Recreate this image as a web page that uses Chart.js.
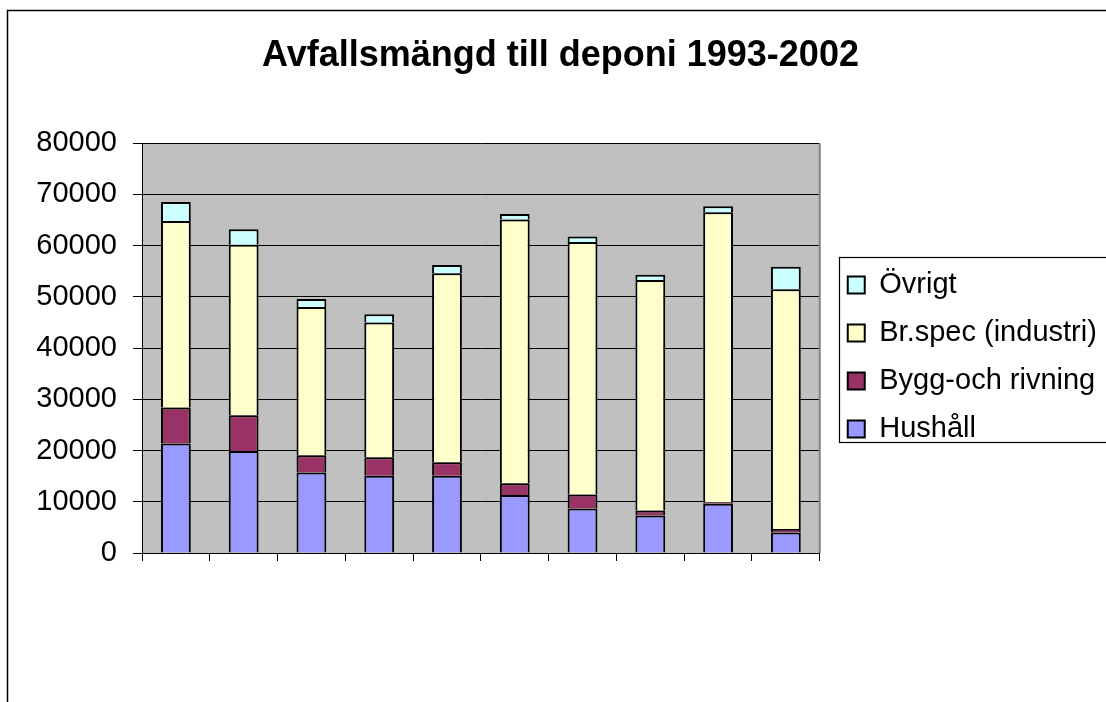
<!DOCTYPE html>
<html>
<head>
<meta charset="utf-8">
<script src="https://cdn.jsdelivr.net/npm/chart.js@4/dist/chart.umd.min.js"></script>
<style>
  html, body { margin: 0; padding: 0; background: #fff; overflow: hidden; }
  #wrap { width: 1106px; height: 702px; }
</style>
</head>
<body>
<div id="wrap"><canvas id="avfall" width="1106" height="702"></canvas></div>
<script>
const years = ['1993', '1994', '1995', '1996', '1997', '1998', '1999', '2000', '2001', '2002']
const hushall = [21400, 19900, 15700, 15100, 15100, 11300, 8700, 7300, 9600, 4000]
const byggRivning = [7000, 7000, 3400, 3600, 2600, 2300, 2700, 1000, 300, 700]
const brSpec = [36400, 33300, 28900, 26300, 36900, 51500, 49300, 45000, 56600, 46800]
const ovrigt = [3700, 3000, 1600, 1600, 1600, 1100, 1100, 1000, 1200, 4400]

const FONT = '"Liberation Sans", Arial, sans-serif'

// plot background, frame, legend box and the grey right edge of the plot
const excelLook = {
    id: 'excelLook',
    afterLayout(chart) {
        // Excel puts the legend a little lower and further right than Chart.js does,
        // and the title sits slightly right of the canvas centre
        const lg = chart.legend
        lg.top += 9
        lg.bottom += 9
        lg.left += 9
        lg.right = chart.width
        const t = chart.titleBlock
        t.left += 6
        t.right += 6
    },
    beforeDraw(chart) {
        const { ctx, chartArea: a } = chart
        ctx.save()
        ctx.fillStyle = '#fff'
        ctx.fillRect(0, 0, chart.width, chart.height)
        ctx.fillStyle = '#c0c0c0'
        ctx.fillRect(a.left, a.top, a.right - a.left, a.bottom - a.top)
        ctx.restore()
    },
    afterDraw(chart) {
        const { ctx, chartArea: a, legend } = chart
        ctx.save()
        ctx.strokeStyle = '#808080'
        ctx.lineWidth = 2
        ctx.beginPath()
        ctx.moveTo(a.right, a.top)
        ctx.lineTo(a.right, a.bottom)
        ctx.stroke()

        ctx.strokeStyle = '#000'
        ctx.lineWidth = 1.5
        ctx.strokeRect(7.5, 10.5, chart.width + 20, chart.height + 20)

        const boxes = legend.legendHitBoxes
        if (boxes && boxes.length) {
            const first = boxes[0]
            const last = boxes[boxes.length - 1]
            const top = Math.round(first.top - 14) + 0.5
            const bottom = Math.round(last.top + last.height - 2) + 0.5
            ctx.lineWidth = 1.2
            ctx.strokeRect(Math.round(first.left - 9) + 0.5, top, chart.width, bottom - top)
        }
        ctx.restore()
    }
}

const config = {
    type: 'bar',
    data: {
        labels: years,
        datasets: [
            { label: 'Hushåll', data: hushall, backgroundColor: '#9999ff' },
            { label: 'Bygg-och rivning', data: byggRivning, backgroundColor: '#993366' },
            { label: 'Br.spec (industri)', data: brSpec, backgroundColor: '#ffffcc' },
            { label: 'Övrigt', data: ovrigt, backgroundColor: '#ccffff' }
        ].map(ds => Object.assign(ds, {
            borderColor: '#000',
            borderWidth: 2,
            barPercentage: 0.44,
            categoryPercentage: 1
        }))
    },
    options: {
        responsive: false,
        animation: false,
        layout: { padding: { top: 12, left: 24, right: 21, bottom: 141 } },
        plugins: {
            title: {
                display: true,
                text: 'Avfallsmängd till deponi 1993-2002',
                color: '#000',
                font: { family: FONT, size: 36, weight: 'bold' },
                padding: { top: 22, bottom: 66 }
            },
            legend: {
                position: 'right',
                fullSize: false,
                reverse: true,
                labels: {
                    color: '#000',
                    font: { family: FONT, size: 29 },
                    boxWidth: 17,
                    boxHeight: 17,
                    padding: 19
                }
            },
            tooltip: { enabled: false }
        },
        scales: {
            x: {
                stacked: true,
                offset: true,
                ticks: { display: false },
                grid: { drawOnChartArea: false, drawTicks: true, tickLength: 8, color: '#000', offset: true },
                border: { color: '#000', width: 1 }
            },
            y: {
                stacked: true,
                min: 0,
                max: 80000,
                afterFit(scale) {
                    scale.width = 118
                },
                ticks: {
                    stepSize: 10000,
                    color: '#000',
                    padding: 16,
                    font: { family: FONT, size: 29 },
                    callback: value => String(value)
                },
                grid: { color: '#000', lineWidth: 1, tickLength: 9 },
                border: { color: '#000', width: 1 }
            }
        }
    },
    plugins: [excelLook]
}

new Chart(document.getElementById('avfall'), config)
</script>
</body>
</html>
